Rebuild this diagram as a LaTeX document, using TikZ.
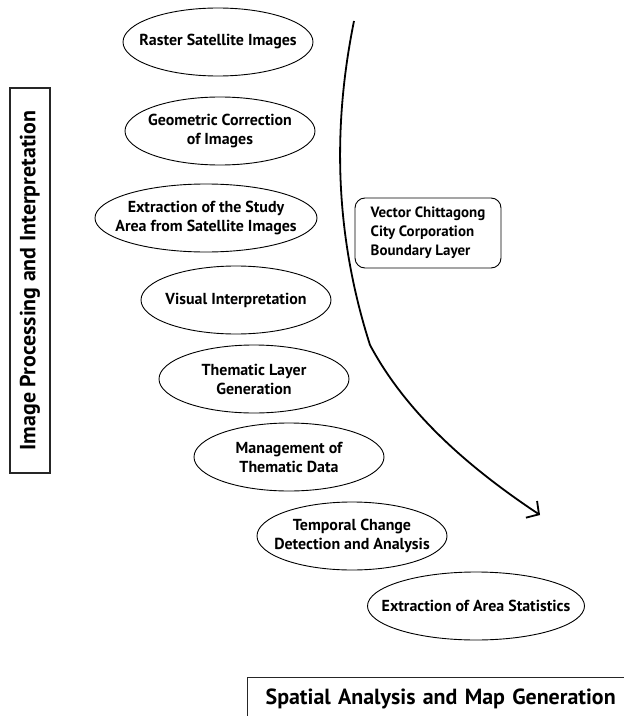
\documentclass[tikz,border=0pt]{standalone}
\usepackage{fontspec}
\setmainfont{PT Sans}
\usetikzlibrary{positioning,shapes.geometric,arrows.meta}

\tikzset{
  stage/.style={draw, ellipse, line width=0.9bp, minimum width=190bp, minimum height=68bp, inner xsep=-25bp, inner ysep=0pt, align=center, font=\bfseries\fontsize{16}{19}\selectfont},
  layerbox/.style={draw, rounded corners=10bp, line width=0.9bp, minimum width=146bp, minimum height=70bp, inner xsep=8bp, align=left, font=\bfseries\fontsize{15}{19}\selectfont},
  headbox/.style={draw=black!85, line width=1.3bp, inner sep=0pt, font=\bfseries\fontsize{22}{26}\selectfont}
}

\begin{document}
\begin{tikzpicture}[x=1bp,y=-1bp]
\useasboundingbox (0,0) rectangle (624,716);
\node[stage] (raster) at (218,42) {Raster Satellite Images};
\node[stage] (geocorr) at (220,131) {Geometric Correction\\of Images};
\node[stage, minimum width=222bp] (subset) at (206,218) {Extraction of the Study\\Area from Satellite Images};
\node[stage] (visual) at (236,300) {Visual Interpretation};
\node[stage] (thematic) at (254,379) {Thematic Layer\\Generation};
\node[stage] (manage) at (289,457) {Management of\\Thematic Data};
\node[stage] (change) at (352,536) {Temporal Change\\Detection and Analysis};
\node[stage, minimum width=217bp] (stats) at (476,606) {Extraction of Area Statistics};
\node[layerbox] (boundary) at (428,233) {Vector Chittagong\\City Corporation\\Boundary Layer};
% section labels
\node[headbox, rotate=90, minimum width=385bp, minimum height=40bp] (imgproc) at (30,280.5) {Image Processing and Interpretation};
\node[headbox, anchor=north west, minimum width=400bp, minimum height=42bp, text width=382bp, inner xsep=18bp, align=left] (spatial) at (247,677) {Spatial Analysis and Map Generation};
% flow arrow
\coordinate (flowstart) at (354,21);
\coordinate (flowend) at (540,515);
\draw[line width=1.8bp, -{Straight Barb[length=9bp,width=20bp]}] (flowstart) .. controls (336,110) and (330,220) .. (370,345) .. controls (410,420) and (480,475) .. (flowend);
\end{tikzpicture}
\end{document}
